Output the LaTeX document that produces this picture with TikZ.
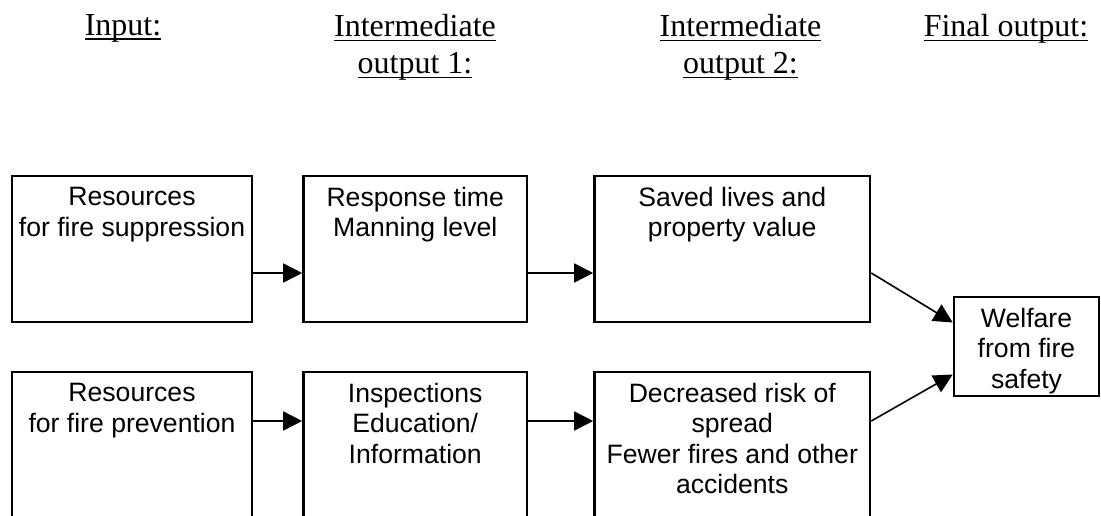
\documentclass[tikz,border=0pt]{standalone}
\usepackage{fontspec}
\setmainfont{Liberation Serif}
\newfontfamily\boxfont{Liberation Sans}
\usetikzlibrary{arrows.meta}
\newcommand\uword[1]{\setbox0=\hbox{#1}\rlap{\rule[-5pt]{\wd0}{1.8pt}}\box0}
\begin{document}
\begin{tikzpicture}[x=1pt,y=-1pt,
		stage/.style={draw,line width=2.6pt,minimum height=146pt,inner sep=0pt},
		boxtext/.style={anchor=north,align=center,inner sep=0pt,font=\boxfont\fontsize{26.6pt}{30.5pt}\selectfont},
		head/.style={anchor=north,align=center,inner sep=0pt,font=\fontsize{32pt}{37pt}\selectfont},
		link/.style={-{Triangle[length=19pt,width=19pt]},line width=1.6pt}]
			\clip (0,0) rectangle (1101,516);
			
			\node[head] (hin) at (123,14) {\uword{Input:}};
			\node[head] (hmid1) at (415,14) {\uword{Intermediate}\\\uword{output 1:}};
			\node[head] (hmid2) at (740.5,14) {\uword{Intermediate}\\\uword{output 2:}};
			\node[head] (hfinal) at (1006,14) {\uword{Final output:}};
			
			\node[stage,minimum width=240pt] (sup1) at (132,249) {};
			\node[stage,minimum width=223.5pt] (sup2) at (415.25,249) {};
			\node[stage,minimum width=275.5pt] (sup3) at (732.25,249) {};
			\node[stage,minimum width=240pt] (pre1) at (132,445) {};
			\node[stage,minimum width=223.5pt] (pre2) at (415.25,445) {};
			\node[stage,minimum width=275.5pt] (pre3) at (732.25,445) {};
			\node[stage,minimum width=145pt,minimum height=99pt] (welfare) at (1026.5,346.5) {};
			
			\node[boxtext] (tsup1) at (132,187) {Resources\\for fire suppression};
			\node[boxtext] (tsup2) at (415.25,187) {Response time\\Manning level};
			\node[boxtext] (tsup3) at (732.25,187) {Saved lives and\\property value};
			\node[boxtext] (tpre1) at (132,383) {Resources\\for fire prevention};
			\node[boxtext] (tpre2) at (415.25,383) {Inspections\\Education/\\Information};
			\node[boxtext] (tpre3) at (732.25,383) {Decreased risk of\\spread\\Fewer fires and other\\accidents};
			\node[boxtext] (twelfare) at (1026.5,308) {Welfare\\from fire\\safety};
			
			\draw[link] ([yshift=-24pt]sup1.east) -- ([yshift=-24pt]sup2.west);
			\draw[link] ([yshift=-24pt]sup2.east) -- ([yshift=-24pt]sup3.west);
			\draw[link] ([yshift=24pt]pre1.east) -- ([yshift=24pt]pre2.west);
			\draw[link] ([yshift=24pt]pre2.east) -- ([yshift=24pt]pre3.west);
			\draw[link] ([yshift=-24pt]sup3.east) -- ([yshift=24pt]welfare.west);
			\draw[link] ([yshift=24pt]pre3.east) -- ([yshift=-28pt]welfare.west);
		\end{tikzpicture}
\end{document}
